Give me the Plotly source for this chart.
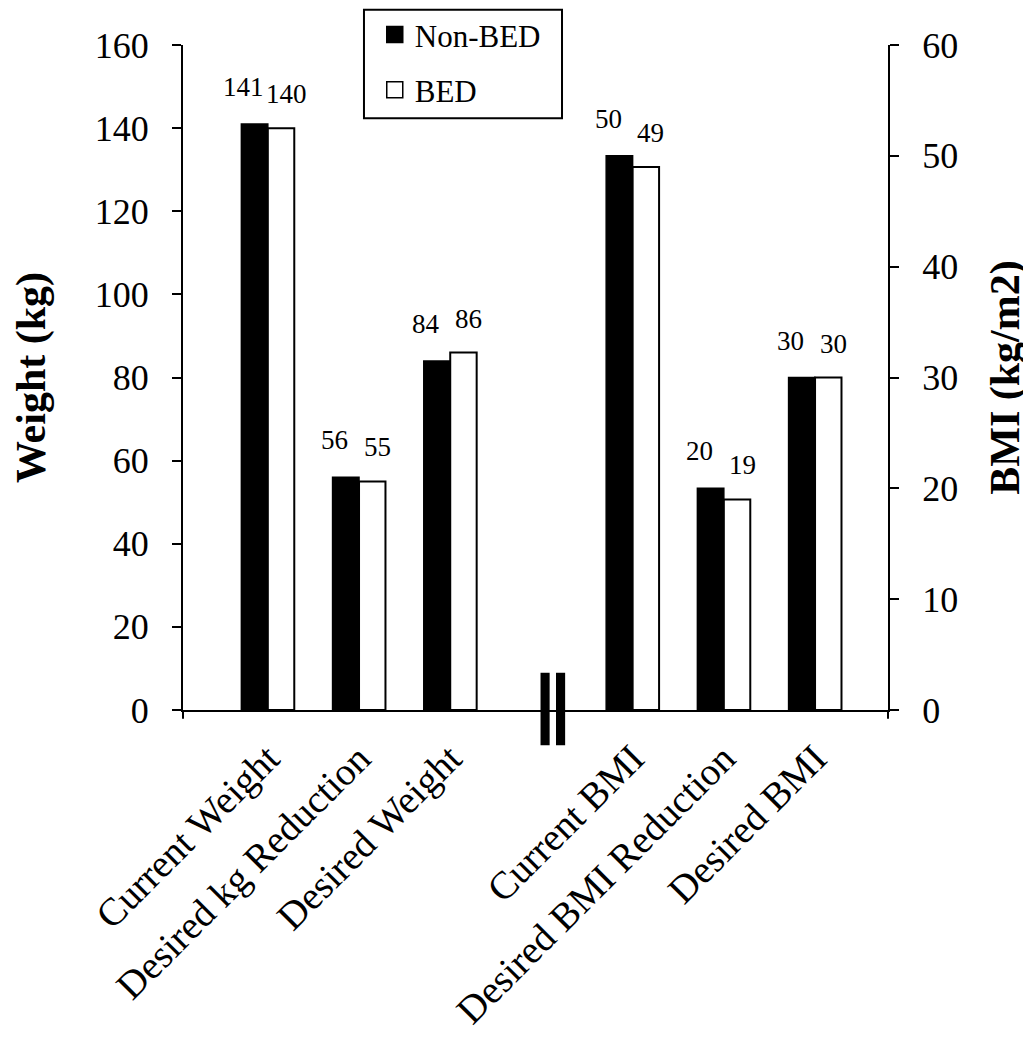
import plotly.graph_objects as go

categories = ["Current Weight", "Desired kg Reduction", "Desired Weight",
              "Current BMI", "Desired BMI Reduction", "Desired BMI"]
weight_pos = [0, 1, 2]
bmi_pos = [4, 5, 6]
nonbed_weight = [141, 56, 84]
bed_weight = [140, 55, 86]
nonbed_bmi = [50, 20, 30]
bed_bmi = [49, 19, 30]
weight_ticks = [0, 20, 40, 60, 80, 100, 120, 140, 160]
bmi_ticks = [0, 10, 20, 30, 40, 50, 60]
series_names = ["Non-BED", "BED"]
series_colors = ["black", "white"]

FONT = "Liberation Serif, Times New Roman, serif"
BW = 0.29

fig = go.Figure()
fig.add_trace(go.Bar(x=weight_pos, y=nonbed_weight, name="Non-BED", width=BW, offset=-BW,
                     marker=dict(color="black", line=dict(color="black", width=1.5)),
                     showlegend=False))
fig.add_trace(go.Bar(x=weight_pos, y=bed_weight, name="BED", width=BW, offset=0,
                     marker=dict(color="white", line=dict(color="black", width=2)),
                     showlegend=False))
fig.add_trace(go.Bar(x=bmi_pos, y=nonbed_bmi, name="Non-BED", width=BW, offset=-BW,
                     marker=dict(color="black", line=dict(color="black", width=1.5)),
                     yaxis="y2", showlegend=False))
fig.add_trace(go.Bar(x=bmi_pos, y=bed_bmi, name="BED", width=BW, offset=0,
                     marker=dict(color="white", line=dict(color="black", width=2)),
                     yaxis="y2", showlegend=False))
# legend entries (larger square symbols)
for nm, col in zip(series_names, series_colors):
    fig.add_trace(go.Scatter(x=[None], y=[None], mode="markers", name=nm,
                             marker=dict(symbol="square", size=19, color=col,
                                         line=dict(color="black", width=1.5)),
                             legendgroup=nm, showlegend=True))

annotations = []
for xs, ys, yref, dx, ys_ in [(weight_pos, nonbed_weight, "y", -0.27, 20),
                              (weight_pos, bed_weight, "y", 0.2, 17),
                              (bmi_pos, nonbed_bmi, "y2", -0.27, 20),
                              (bmi_pos, bed_bmi, "y2", 0.2, 17)]:
    for xv, yv in zip(xs, ys):
        annotations.append(dict(x=xv + dx, y=yv, xref="x", yref=yref, text=str(yv),
                                showarrow=False, yanchor="bottom", yshift=ys_,
                                font=dict(family=FONT, size=27, color="black")))

shapes = []
# axis break marker
for x0, x1 in [(2.99, 3.09), (3.16, 3.26)]:
    shapes.append(dict(type="rect", xref="x", yref="paper", x0=x0, x1=x1,
                       y0=-0.053, y1=0.056, fillcolor="black", line=dict(width=0)))
# small end ticks below x axis
for xp in [0, 1]:
    shapes.append(dict(type="line", xref="paper", yref="paper", x0=xp, x1=xp,
                       y0=0, y1=-0.013, line=dict(color="black", width=2)))
# legend frame
shapes.append(dict(type="rect", xref="paper", yref="paper", x0=0.2567, x1=0.5376,
                   y0=0.890, y1=1.053, line=dict(color="black", width=2),
                   fillcolor="rgba(0,0,0,0)"))

fig.update_layout(
    width=1031, height=1050,
    margin=dict(l=175, r=151, t=37, b=348, autoexpand=False),
    plot_bgcolor="white", paper_bgcolor="white",
    font=dict(family=FONT, size=36, color="black"),
    barmode="overlay",
    showlegend=True,
    legend=dict(x=0.272, y=1.056, xanchor="left", yanchor="top",
                borderwidth=0, bgcolor="rgba(0,0,0,0)",
                font=dict(family=FONT, size=31, color="black"),
                tracegroupgap=12, traceorder="grouped", itemwidth=30),
    xaxis=dict(range=[-0.93, 6.80], tickmode="array", tickvals=weight_pos + bmi_pos,
               ticktext=categories, tickangle=-45, ticks="", showline=True,
               linecolor="black", linewidth=2, showgrid=False, zeroline=False,
               ticklabelstandoff=8,
               tickfont=dict(family=FONT, size=39, color="black")),
    yaxis=dict(range=[0, 160], tickvals=weight_ticks, ticks="outside", ticklen=9,
               tickwidth=2, tickcolor="black", showline=True, linecolor="black",
               linewidth=2, showgrid=False, zeroline=False, ticklabelstandoff=16,
               title=dict(text="<b>Weight (kg)</b>", standoff=42,
                          font=dict(family=FONT, size=42, color="black")),
               tickfont=dict(family=FONT, size=36, color="black")),
    yaxis2=dict(range=[0, 60], tickvals=bmi_ticks, overlaying="y", side="right",
                ticks="outside", ticklen=9, tickwidth=2, tickcolor="black",
                showline=True, linecolor="black", linewidth=2, showgrid=False,
                zeroline=False, ticklabelstandoff=16,
                title=dict(text="<b>BMI (kg/m2)</b>", standoff=32,
                           font=dict(family=FONT, size=42, color="black")),
                tickfont=dict(family=FONT, size=36, color="black")),
    annotations=annotations,
    shapes=shapes,
)

fig.write_html("out.html")
